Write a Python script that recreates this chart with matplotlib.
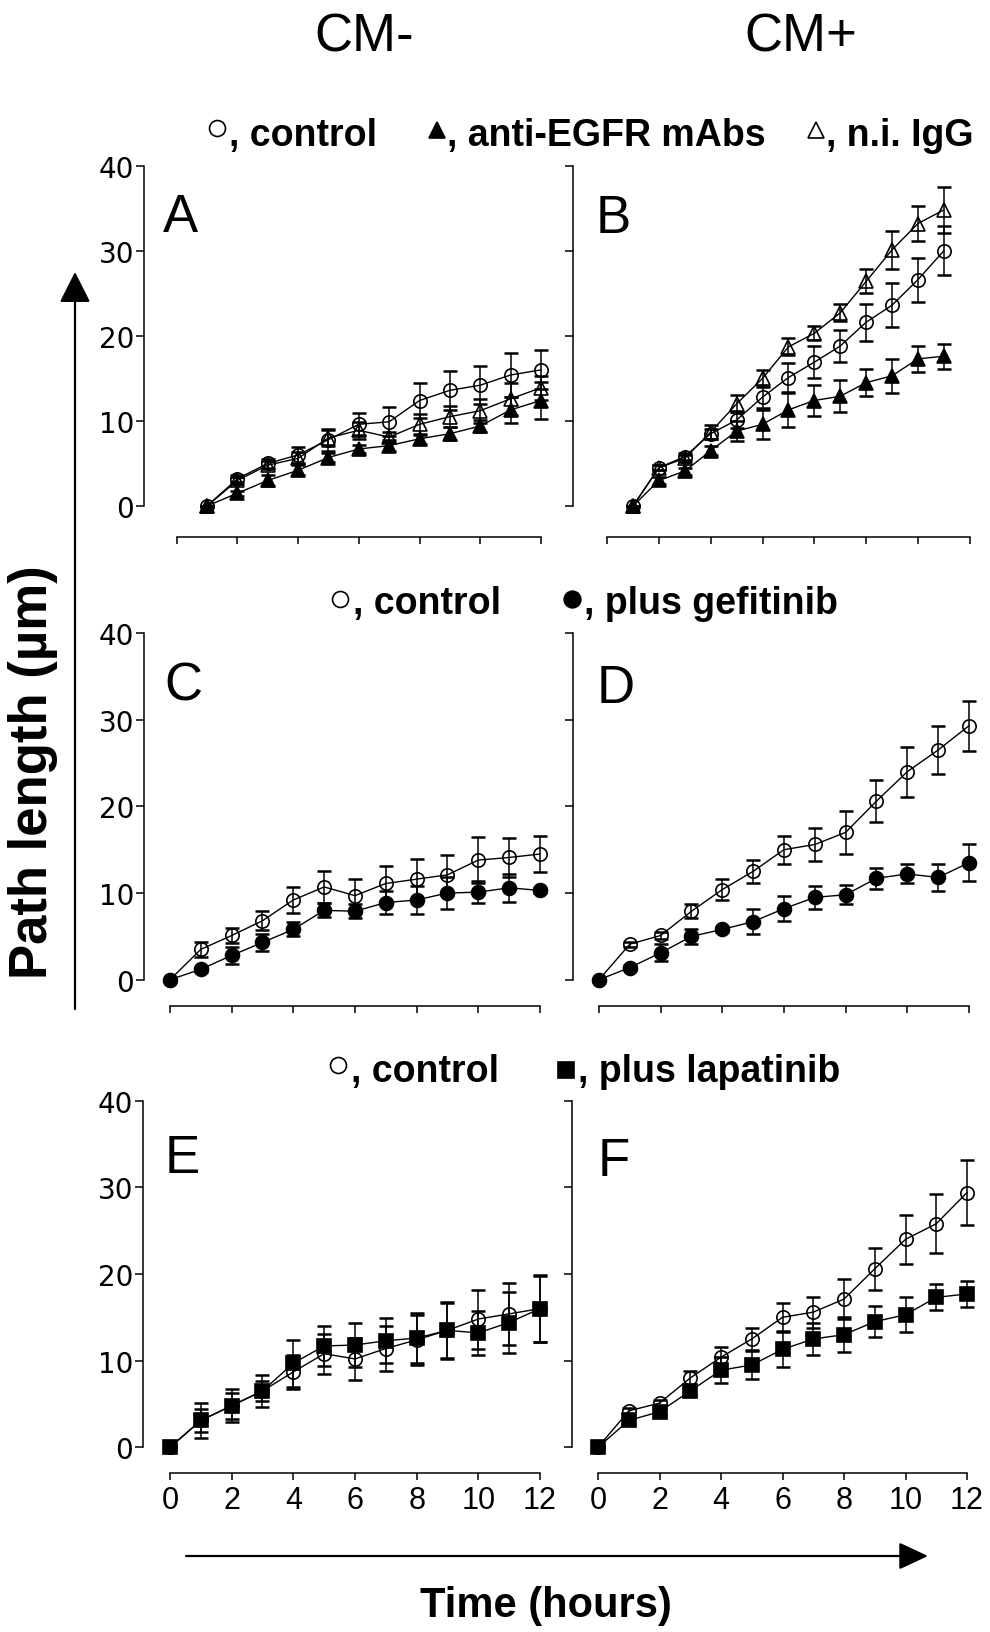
import numpy as np
import matplotlib
matplotlib.use('Agg')
import matplotlib.pyplot as plt
from matplotlib.patches import FancyArrowPatch
from matplotlib.lines import Line2D

# ---------------- data ----------------
time_ab_a = list(range(0, 12))      # panel A points (12 points)
time_full = list(range(0, 13))      # 0..12 h

A_control = [0, 3.2, 5.0, 6.0, 7.8, 9.6, 9.9, 12.4, 13.6, 14.2, 15.4, 16.0]
A_control_err = [0, 0.4, 0.5, 0.9, 1.3, 1.3, 1.7, 2.0, 2.3, 2.2, 2.6, 2.3]
A_egfr = [0, 1.5, 3.0, 4.2, 5.7, 6.7, 7.1, 7.9, 8.5, 9.4, 11.3, 12.4]
A_egfr_err = [0, 0.3, 0.6, 0.6, 0.5, 0.5, 0.6, 0.6, 0.8, 0.7, 1.5, 2.2]
A_igg = [0, 3.0, 4.8, 5.6, 8.0, 8.9, 8.1, 9.6, 10.5, 11.2, 12.6, 13.9]
A_igg_err = [0, 0.4, 0.5, 0.7, 0.9, 1.0, 0.6, 1.2, 1.2, 1.4, 1.9, 1.4]

B_control = [0, 4.5, 5.8, 8.5, 10.1, 12.8, 15.1, 16.9, 18.8, 21.6, 23.6, 26.6, 30.0]
B_control_err = [0, 0.3, 0.4, 0.6, 0.9, 1.3, 1.7, 1.9, 1.9, 2.2, 2.6, 2.6, 2.9]
B_egfr = [0, 3.0, 4.1, 6.5, 8.8, 9.6, 11.3, 12.4, 12.9, 14.5, 15.3, 17.3, 17.6]
B_egfr_err = [0, 0.4, 0.4, 0.5, 1.2, 1.7, 2.0, 1.8, 1.9, 1.6, 2.0, 1.5, 1.5]
B_igg = [0, 4.5, 5.6, 8.7, 12.0, 15.0, 18.7, 20.3, 22.7, 26.4, 30.1, 33.2, 34.8]
B_igg_err = [0, 0.3, 0.4, 0.8, 1.0, 1.0, 1.0, 0.8, 1.0, 1.4, 2.2, 2.1, 2.7]

C_control = [0, 3.5, 5.1, 6.8, 9.2, 10.7, 9.7, 11.1, 11.6, 12.1, 13.8, 14.1, 14.5]
C_control_err = [0, 0.9, 0.9, 1.1, 1.5, 1.8, 1.9, 2.0, 2.3, 2.3, 2.7, 2.2, 2.1]
C_gef = [0, 1.2, 2.8, 4.3, 5.8, 8.0, 7.9, 8.9, 9.2, 10.0, 10.1, 10.6, 10.3]
C_gef_err = [0, 0.3, 1.0, 1.0, 0.8, 0.8, 0.8, 1.3, 1.6, 1.9, 1.3, 1.6, 0.3]

D_control = [0, 4.1, 5.1, 7.9, 10.4, 12.5, 15.0, 15.6, 17.0, 20.6, 24.0, 26.5, 29.3]
D_control_err = [0, 0.3, 0.4, 0.8, 1.2, 1.3, 1.6, 1.9, 2.5, 2.4, 2.9, 2.8, 2.9]
D_gef = [0, 1.4, 3.1, 5.0, 5.8, 6.7, 8.2, 9.5, 9.8, 11.7, 12.2, 11.8, 13.5]
D_gef_err = [0, 0.3, 1.0, 0.9, 0.3, 1.4, 1.4, 1.3, 1.1, 1.2, 1.1, 1.6, 2.1]

E_control = [0, 3.1, 4.8, 6.5, 8.7, 10.8, 10.2, 11.4, 12.4, 13.5, 14.8, 15.4, 16.0]
E_control_err = [0, 2.0, 1.9, 1.2, 2.0, 2.3, 2.4, 2.6, 2.9, 3.2, 3.4, 3.6, 3.8]
E_lap = [0, 3.1, 4.8, 6.5, 9.7, 11.7, 11.8, 12.3, 12.6, 13.5, 13.2, 14.4, 16.0]
E_lap_err = [0, 1.3, 1.5, 1.9, 2.7, 2.3, 2.5, 2.6, 2.9, 3.3, 2.5, 3.5, 3.9]

F_control = [0, 4.2, 5.1, 8.0, 10.4, 12.5, 15.0, 15.6, 17.1, 20.6, 24.0, 25.8, 29.4]
F_control_err = [0, 0.3, 0.4, 0.8, 1.2, 1.3, 1.6, 1.8, 2.3, 2.4, 2.8, 3.4, 3.8]
F_lap = [0, 3.1, 4.1, 6.5, 8.9, 9.5, 11.3, 12.5, 13.0, 14.5, 15.3, 17.3, 17.7]
F_lap_err = [0, 0.4, 0.4, 0.5, 1.5, 1.6, 2.0, 1.9, 2.0, 1.8, 2.0, 1.5, 1.5]

y_ticks = [0, 10, 20, 30, 40]
x_ticks_A = [-1, 1, 3, 5, 7, 9, 11]
x_ticks_B = [-1, 1, 3, 5, 7, 9, 11, 13]
x_ticks = [0, 2, 4, 6, 8, 10, 12]

column_titles = ['CM-', 'CM+']
panel_letters = ['A', 'B', 'C', 'D', 'E', 'F']

# ---------------- figure ----------------
W, H = 990, 1633
fig = plt.figure(figsize=(W / 100, H / 100), dpi=100)
SANS = ['Liberation Sans', 'DejaVu Sans']


def fx(px):
    return px / W


def fy(py):
    return 1 - py / H


def make_ax(left, right, top, bottom, x0, pph, offset_pt, xt, bounds, ylabels, xlabels):
    ax = fig.add_axes([fx(left), fy(bottom), (right - left) / W, (bottom - top) / H])
    ax.set_xlim((left - x0) / pph, (right - x0) / pph)
    ax.set_ylim(0, 40)
    ax.patch.set_alpha(0)
    for s in ['top', 'right']:
        ax.spines[s].set_visible(False)
    ax.spines['left'].set_linewidth(1.1)
    ax.spines['bottom'].set_linewidth(1.1)
    ax.spines['bottom'].set_position(('outward', offset_pt))
    ax.spines['bottom'].set_bounds(*bounds)
    ax.set_yticks(y_ticks)
    ax.set_xticks(xt)
    ax.tick_params(axis='y', direction='out', length=6, width=1.1, pad=1,
                   labelsize=20, labelleft=ylabels)
    ax.tick_params(axis='x', direction='out', length=5, width=1.1, pad=4,
                   labelsize=22, labelbottom=xlabels)
    for lab in ax.get_yticklabels():
        lab.set_family('DejaVu Sans')
    for lab in ax.get_xticklabels():
        lab.set_family(SANS)
    return ax


def series(ax, t, y, e, marker, filled, ms=9.2):
    ax.errorbar(t, y, yerr=e, fmt='none', ecolor='black', elinewidth=1.1,
                capsize=4.8, capthick=1.8, clip_on=False, zorder=3)
    ax.plot(t, y, '-', color='black', lw=1.0, marker=marker, ms=ms,
            mfc='black' if filled else 'none', mec='black', mew=1.2,
            clip_on=False, zorder=4)


axA = make_ax(144, 560, 166.7, 507, 207, 30.36, 22.3, x_ticks_A, (-1, 11), True, False)
axB = make_ax(573, 985, 166.7, 507, 633, 25.9, 22.3, x_ticks_B, (-1, 13), False, False)
axC = make_ax(144, 560, 634, 980.7, 170, 30.83, 19, x_ticks, (0, 12), True, False)
axD = make_ax(573, 985, 634, 980.7, 599, 30.83, 19, x_ticks, (0, 12), False, False)
axE = make_ax(143, 560, 1101.7, 1448.3, 170, 30.83, 18.5, x_ticks, (0, 12), True, True)
axF = make_ax(572, 985, 1101.7, 1448.3, 598, 30.75, 18.5, x_ticks, (0, 12), False, True)

series(axA, time_ab_a, A_control, A_control_err, 'o', False, 9.6)
series(axA, time_ab_a, A_egfr, A_egfr_err, '^', True, 10)
series(axA, time_ab_a, A_igg, A_igg_err, '^', False, 10)

series(axB, time_full, B_control, B_control_err, 'o', False, 9.6)
series(axB, time_full, B_egfr, B_egfr_err, '^', True, 10)
series(axB, time_full, B_igg, B_igg_err, '^', False, 10)

series(axC, time_full, C_control, C_control_err, 'o', False, 9.6)
series(axC, time_full, C_gef, C_gef_err, 'o', True, 10)

series(axD, time_full, D_control, D_control_err, 'o', False, 9.6)
series(axD, time_full, D_gef, D_gef_err, 'o', True, 10)

series(axE, time_full, E_control, E_control_err, 'o', False, 9.6)
series(axE, time_full, E_lap, E_lap_err, 's', True, 9.8)

series(axF, time_full, F_control, F_control_err, 'o', False, 9.6)
series(axF, time_full, F_lap, F_lap_err, 's', True, 9.8)

# panel letters
letter_pos = [(163, 232), (596, 233), (164, 701), (597, 703), (165, 1173), (598, 1176)]
for letter, (px, py) in zip(panel_letters, letter_pos):
    fig.text(fx(px), fy(py), letter, fontsize=38, family=SANS, ha='left', va='baseline')

# column titles
fig.text(fx(364), fy(52), column_titles[0], fontsize=38, family=SANS, ha='center', va='baseline')
fig.text(fx(801), fy(52), column_titles[1], fontsize=38, family=SANS, ha='center', va='baseline')


# legends
def leg_marker(px, py, marker, filled, ms=11):
    fig.add_artist(Line2D([fx(px)], [fy(py)], transform=fig.transFigure, marker=marker,
                          ms=ms, mfc='black' if filled else 'none', mec='black',
                          mew=1.2, linestyle='none'))


def leg_text(px, py, s):
    fig.text(fx(px), fy(py), s, fontsize=27, fontweight='bold', family=SANS,
             ha='left', va='baseline')


leg_marker(216.5, 129, 'o', False, 11.5)
leg_text(229, 146, ', control')
leg_marker(437, 131, '^', True, 12)
leg_text(447, 146, ', anti-EGFR mAbs')
leg_marker(816, 131, '^', False, 12)
leg_text(826, 146, ', n.i. IgG')

leg_marker(340, 600, 'o', False, 11.5)
leg_text(353, 614, ', control')
leg_marker(571.5, 600, 'o', True, 12)
leg_text(584, 614, ', plus gefitinib')

leg_marker(338, 1066, 'o', False, 11.5)
leg_text(351, 1082, ', control')
leg_marker(566, 1071, 's', True, 11)
leg_text(578, 1082, ', plus lapatinib')

# axis titles
fig.text(fx(33), fy(772), 'Path length (\u00b5m)', fontsize=38, fontweight='bold',
         family=SANS, rotation=90, ha='center', va='center')
fig.text(fx(546), fy(1617), 'Time (hours)', fontsize=30, fontweight='bold',
         family=SANS, ha='center', va='baseline')

# arrows
arr_v = FancyArrowPatch((fx(75), fy(1010)), (fx(75), fy(273)), transform=fig.transFigure,
                        arrowstyle='-|>,head_length=0.95,head_width=0.48',
                        mutation_scale=20, lw=1.6, color='black', shrinkA=0, shrinkB=0)
arr_h = FancyArrowPatch((fx(186), fy(1557)), (fx(928), fy(1557)), transform=fig.transFigure,
                        arrowstyle='-|>,head_length=0.9,head_width=0.42',
                        mutation_scale=20, lw=1.6, color='black', shrinkA=0, shrinkB=0)
fig.add_artist(arr_v)
fig.add_artist(arr_h)

fig.savefig('out.png', dpi=100)
